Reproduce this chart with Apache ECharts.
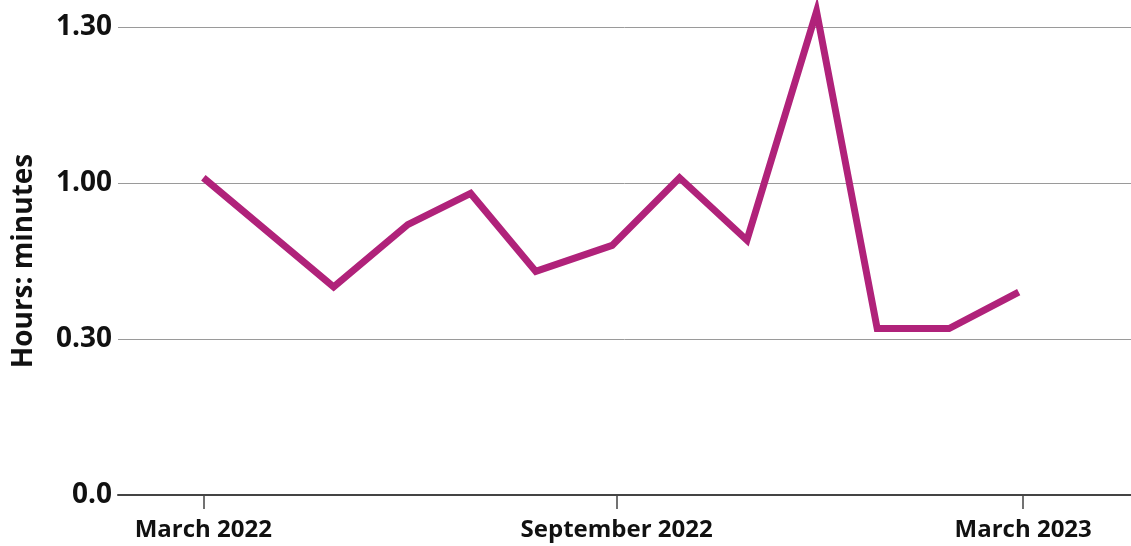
<!DOCTYPE html>
<html>
<head>
<meta charset="utf-8">
<script src="https://cdn.jsdelivr.net/npm/echarts@6/dist/echarts.min.js"></script>
<style>
  html, body { margin: 0; padding: 0; background: #fff; }
  #chart { width: 1131px; height: 546px; }
</style>
</head>
<body>
<div id="chart"></div>
<script>
// Data (minutes)
const dates = ['2022-03-01','2022-04-28','2022-05-31','2022-06-28','2022-07-27','2022-08-30','2022-09-29','2022-10-29','2022-11-29','2022-12-26','2023-01-27','2023-02-27'];
const minutes = [61, 40, 52, 58, 43, 48, 61, 49, 93, 32, 32, 39];
const xTickDates = ['2022-03-01','2022-09-01','2023-03-01'];
const xTickLabels = ['March 2022','September 2022','March 2023'];
const yTickValues = [0, 30, 60, 90];
const yTickLabels = ['0.0','0.30','1.00','1.30'];
const xRange = ['2022-01-22', '2023-04-18'];

function ts(s) { return new Date(s + 'T00:00:00Z').getTime(); }
const xTickTs = xTickDates.map(ts);

const chart = echarts.init(document.getElementById('chart'));
const font = '"Open Sans", "Noto Sans", sans-serif';

chart.setOption({
  animation: false,
  grid: { left: 118, right: 0, top: 27, bottom: 51, outerBoundsMode: 'none' },
  xAxis: {
    type: 'value',
    min: ts(xRange[0]),
    max: ts(xRange[1]),
    axisLine: { show: true, lineStyle: { color: '#444', width: 2 } },
    axisTick: { show: true, length: 14, lineStyle: { color: '#444', width: 1.5 }, customValues: xTickTs },
    axisLabel: {
      customValues: xTickTs,
      color: '#111',
      fontFamily: font,
      fontWeight: 'bold',
      fontSize: 24,
      margin: 23,
      formatter: function (val) {
        const idx = xTickTs.indexOf(val);
        return idx >= 0 ? xTickLabels[idx] : '';
      }
    },
    splitLine: { show: false }
  },
  yAxis: {
    type: 'value',
    min: 0,
    max: 90,
    interval: 30,
    name: 'Hours: minutes',
    nameLocation: 'middle',
    nameRotate: 90,
    nameGap: 80,
    nameTextStyle: { color: '#111', fontFamily: font, fontWeight: 'bold', fontSize: 28 },
    axisLine: { show: false },
    axisTick: { show: false },
    axisLabel: {
      color: '#111',
      fontFamily: font,
      fontWeight: 'bold',
      fontSize: 28,
      margin: 6,
      formatter: function (v) {
        const i = yTickValues.indexOf(v);
        return i >= 0 ? yTickLabels[i] : '';
      }
    },
    splitLine: { show: true, lineStyle: { color: '#9a9a9a', width: 1 } }
  },
  series: [{
    type: 'line',
    data: dates.map(function (d, i) { return [ts(d), minutes[i]]; }),
    symbol: 'none',
    clip: false,
    lineStyle: { color: '#b0227a', width: 7, join: 'miter', miterLimit: 10 },
    z: 3
  }]
});
</script>
</body>
</html>
